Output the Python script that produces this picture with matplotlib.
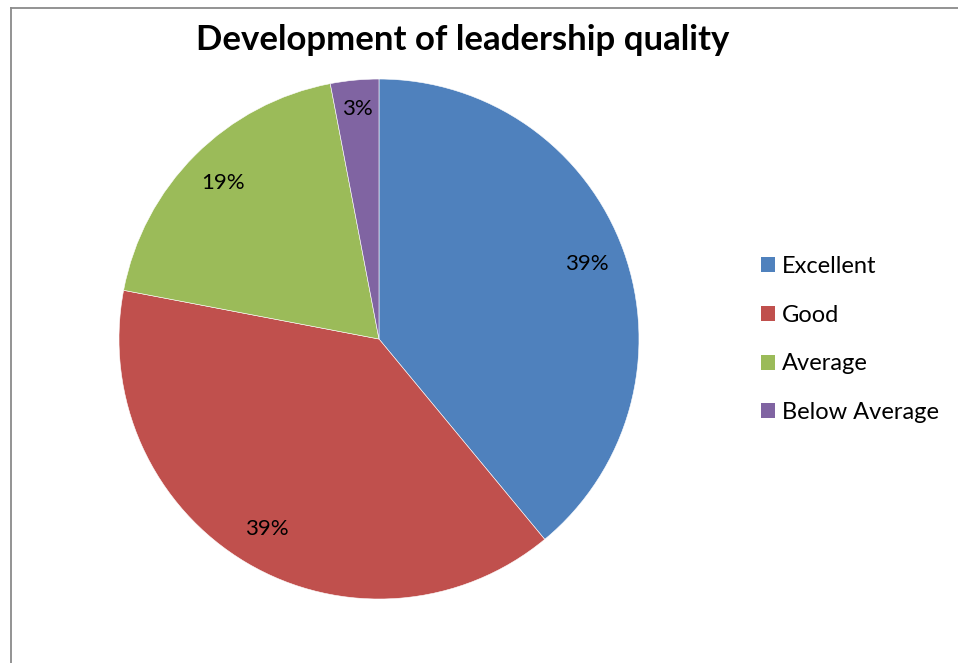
import matplotlib
matplotlib.use("Agg")
import matplotlib.pyplot as plt
from matplotlib.patches import Patch
from matplotlib.lines import Line2D
import numpy as np

categories = ["Excellent", "Good", "Average", "Below Average"]
shares = [39, 39, 19, 3]
colors = ["#4F81BD", "#C0504D", "#9BBB59", "#8064A2"]
title = "Development of leadership quality"

plt.rcParams["font.family"] = ["Lato", "DejaVu Sans"]

fig = plt.figure(figsize=(9.58, 6.63), dpi=100)
fig.patch.set_facecolor("white")

# chart-area border (left and top edges visible)
fig.add_artist(Line2D([0.0115, 0.0115], [0.0, 0.988], transform=fig.transFigure,
                      color="#8a8a8a", lw=1.3))
fig.add_artist(Line2D([0.0115, 1.0], [0.988, 0.988], transform=fig.transFigure,
                      color="#8a8a8a", lw=1.3))

ax = fig.add_axes([0.1242, 0.0965, 0.5428, 0.7843])
wedges, texts, autotexts = ax.pie(
    shares, colors=colors, startangle=90, counterclock=False,
    autopct=lambda p: f"{p:.0f}%", pctdistance=0.85,
    wedgeprops=dict(edgecolor="white", linewidth=0.4),
    textprops=dict(fontsize=16, color="black"),
)
ax.set_aspect("auto")
ax.set_xlim(-1, 1)
ax.set_ylim(-1, 1)

# push the small slice's label a bit further out
w = wedges[-1]
ang = np.deg2rad((w.theta1 + w.theta2) / 2)
autotexts[-1].set_position((0.89 * np.cos(ang), 0.89 * np.sin(ang)))

fig.text(0.483, 0.940, title, ha="center", va="center",
         fontsize=25, fontweight="bold")

handles = [Patch(facecolor=c, edgecolor="none") for c in colors]
fig.legend(handles, categories, loc="center left",
           bbox_to_anchor=(0.784, 0.488), frameon=False, fontsize=17,
           handlelength=0.6, handleheight=0.6, handletextpad=0.3,
           labelspacing=1.18, borderaxespad=0)

fig.savefig("out.png", dpi=100)
